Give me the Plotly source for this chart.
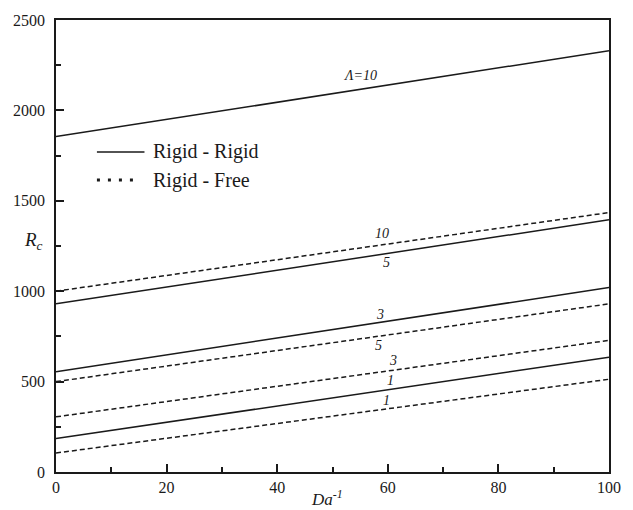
import plotly.graph_objects as go

# Inverse Darcy number (x) and critical Rayleigh number (y)
da_inv = [0, 100]

# Rigid-Rigid boundaries
rr_lambda_1 = [185, 635]
rr_lambda_3 = [555, 1020]
rr_lambda_5 = [930, 1395]
rr_lambda_10 = [1855, 2330]

# Rigid-Free boundaries
rf_lambda_1 = [105, 513]
rf_lambda_3 = [305, 728]
rf_lambda_5 = [500, 930]
rf_lambda_10 = [1000, 1435]

x_ticks = [0, 20, 40, 60, 80, 100]
y_ticks = [0, 500, 1000, 1500, 2000, 2500]

INK = "#1a1a1a"
SERIF = "Liberation Serif"
DASH = "5px,3px"

fig = go.Figure()

curves = [
    (rr_lambda_1, "solid", "Λ=1 (Rigid-Rigid)"),
    (rr_lambda_3, "solid", "Λ=3 (Rigid-Rigid)"),
    (rr_lambda_5, "solid", "Λ=5 (Rigid-Rigid)"),
    (rr_lambda_10, "solid", "Λ=10 (Rigid-Rigid)"),
    (rf_lambda_1, DASH, "Λ=1 (Rigid-Free)"),
    (rf_lambda_3, DASH, "Λ=3 (Rigid-Free)"),
    (rf_lambda_5, DASH, "Λ=5 (Rigid-Free)"),
    (rf_lambda_10, DASH, "Λ=10 (Rigid-Free)"),
]
for ys, dash, name in curves:
    fig.add_trace(go.Scatter(
        x=da_inv, y=ys, mode="lines", name=name, showlegend=False,
        line=dict(color=INK, width=1.5, dash=dash),
    ))


def value_at(series, x):
    # position along a straight curve, used only to anchor its label
    return series[0] + (series[1] - series[0]) * (x - da_inv[0]) / (da_inv[1] - da_inv[0])


# (series, label text, x position, vertical pixel offset)
labels = [
    (rr_lambda_10, "Λ=10", 55, 14),
    (rf_lambda_10, "10", 59, 11),
    (rr_lambda_5, "5", 59.7, -9),
    (rr_lambda_3, "3", 58.6, 8),
    (rf_lambda_5, "5", 58.3, -9),
    (rf_lambda_3, "3", 61, 10),
    (rr_lambda_1, "1", 60.4, 9),
    (rf_lambda_1, "1", 59.7, 8),
]
for series, text, lx, shift in labels:
    fig.add_annotation(
        x=lx, y=value_at(series, lx), text=f"<i>{text}</i>", showarrow=False,
        yshift=shift, font=dict(family=SERIF, size=14, color=INK),
    )

# Legend drawn as line samples with text
legend_rows = [("Rigid - Rigid", "solid", 1.5, 0.16), ("Rigid - Free", "3px,8px", 3, 0.14)]
leg_x0, leg_text_x, leg_y0, leg_dy = 0.074, 0.172, 0.708, 0.062
for i, (name, dash, w, x_end) in enumerate(legend_rows):
    yy = leg_y0 - i * leg_dy
    fig.add_shape(type="line", xref="paper", yref="paper",
                  x0=leg_x0, x1=x_end, y0=yy, y1=yy,
                  line=dict(color=INK, width=w, dash=dash))
    fig.add_annotation(xref="paper", yref="paper", x=leg_text_x, y=yy,
                       xanchor="left", yanchor="middle", showarrow=False,
                       text=name, font=dict(family=SERIF, size=20, color=INK))

# Axis titles
fig.add_annotation(xref="paper", yref="paper", x=0.49, y=-0.058, yanchor="middle",
                   showarrow=False, text="<i>Da</i><sup><i>-1</i></sup>",
                   font=dict(family=SERIF, size=17, color=INK))
fig.add_annotation(xref="paper", yref="y", x=-0.02, y=1276, xanchor="right",
                   showarrow=False, text="<i>R</i><sub><i>c</i></sub>",
                   font=dict(family=SERIF, size=19, color=INK))

axis_common = dict(
    showgrid=False, zeroline=False, showline=True, mirror=True,
    linecolor=INK, linewidth=1.5, ticks="inside", ticklen=8, tickwidth=1.5,
    tickcolor=INK, tickfont=dict(family=SERIF, size=16, color=INK),
)
fig.update_xaxes(range=[0, 100], tickvals=x_ticks,
                 minor=dict(ticks="inside", dtick=10, ticklen=5, tickwidth=1.5, tickcolor=INK),
                 **axis_common)
fig.update_yaxes(range=[0, 2500], tickvals=y_ticks, ticklabelstandoff=6,
                 minor=dict(ticks="inside", dtick=250, ticklen=5, tickwidth=1.5, tickcolor=INK),
                 **axis_common)

fig.update_layout(
    width=633, height=510,
    margin=dict(l=56, r=21, t=20, b=38),
    paper_bgcolor="white", plot_bgcolor="white",
    showlegend=False,
)

fig.write_html("out.html")
